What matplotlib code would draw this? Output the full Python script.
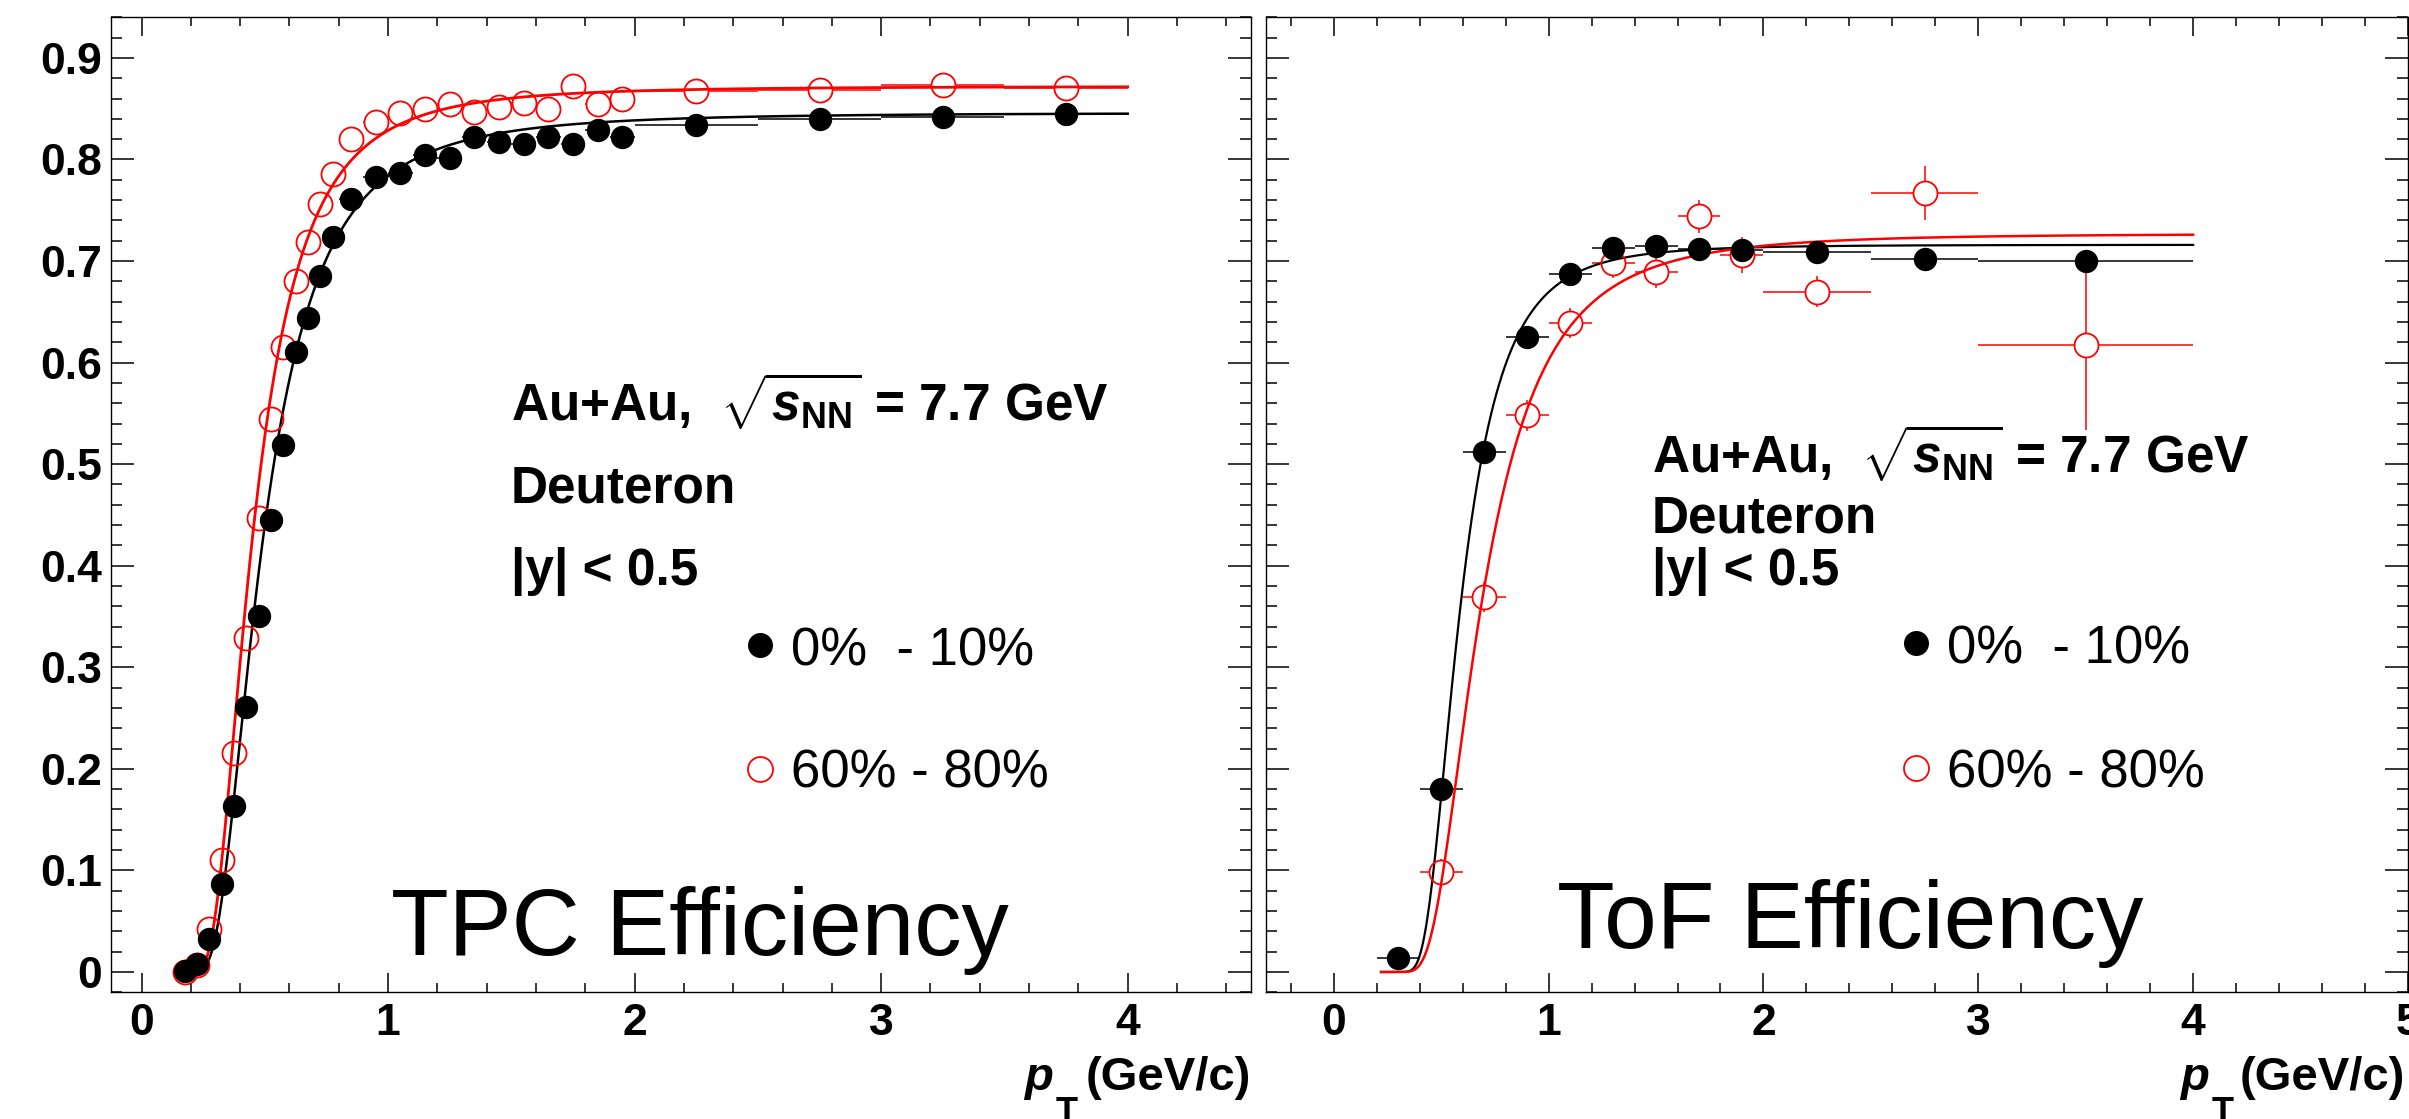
import matplotlib
matplotlib.use("Agg")
import matplotlib.pyplot as plt
import numpy as np
from matplotlib.ticker import MultipleLocator, FuncFormatter

plt.rcParams["font.family"] = ["Liberation Sans", "DejaVu Sans"]
plt.rcParams["mathtext.fontset"] = "custom"
plt.rcParams["mathtext.rm"] = "Liberation Sans:bold"
plt.rcParams["mathtext.it"] = "Liberation Sans:bold:italic"
plt.rcParams["mathtext.bf"] = "Liberation Sans:bold"

# ---- TPC efficiency (left panel) ----
tpc_pt = [0.175, 0.225, 0.275, 0.325, 0.375, 0.425, 0.475, 0.525, 0.575, 0.625,
          0.675, 0.725, 0.775, 0.85, 0.95, 1.05, 1.15, 1.25, 1.35, 1.45,
          1.55, 1.65, 1.75, 1.85, 1.95, 2.25, 2.75, 3.25, 3.75]
tpc_pt_err = [0.025] * 13 + [0.05] * 12 + [0.25] * 4
tpc_eff_0_10 = [0.001, 0.008, 0.032, 0.087, 0.163, 0.261, 0.351, 0.445, 0.519, 0.610,
                0.644, 0.685, 0.724, 0.761, 0.783, 0.787, 0.804, 0.801, 0.822, 0.817,
                0.815, 0.822, 0.815, 0.829, 0.822, 0.834, 0.840, 0.842, 0.845]
tpc_eff_60_80 = [0.000, 0.007, 0.042, 0.110, 0.216, 0.329, 0.447, 0.544, 0.615, 0.680,
                 0.719, 0.756, 0.786, 0.820, 0.837, 0.846, 0.850, 0.855, 0.847, 0.852,
                 0.856, 0.850, 0.872, 0.855, 0.860, 0.867, 0.868, 0.873, 0.870]

# ---- ToF efficiency (right panel) ----
tof_pt_0_10 = [0.3, 0.5, 0.7, 0.9, 1.1, 1.3, 1.5, 1.7, 1.9, 2.25, 2.75, 3.5]
tof_pt_err_0_10 = [0.1, 0.1, 0.1, 0.1, 0.1, 0.1, 0.1, 0.1, 0.1, 0.25, 0.25, 0.5]
tof_eff_0_10 = [0.014, 0.180, 0.512, 0.625, 0.687, 0.713, 0.715, 0.712, 0.711, 0.709, 0.702, 0.700]
tof_eff_err_0_10 = [0.004] * 12

tof_pt_60_80 = [0.5, 0.7, 0.9, 1.1, 1.3, 1.5, 1.7, 1.9, 2.25, 2.75, 3.5]
tof_pt_err_60_80 = [0.1, 0.1, 0.1, 0.1, 0.1, 0.1, 0.1, 0.1, 0.25, 0.25, 0.5]
tof_eff_60_80 = [0.098, 0.369, 0.548, 0.639, 0.698, 0.689, 0.744, 0.706, 0.670, 0.767, 0.617]
tof_eff_err_60_80 = [0.013, 0.015, 0.015, 0.015, 0.015, 0.016, 0.016, 0.018, 0.015, 0.027, 0.083]

# fit parameters of eff = a * exp(-(b / pT)^c)
tpc_fit_0_10 = (0.846, 0.436, 3.1)
tpc_fit_60_80 = (0.872, 0.406, 3.3)
tof_fit_0_10 = (0.716, 0.5415, 4.4)
tof_fit_60_80 = (0.727, 0.620, 3.5)
tpc_fit_range = (0.17, 4.0)
tof_fit_range = (0.22, 4.0)

W, H = 2409, 1119


def fx(px):
    return px / W


def fy(py):
    return 1 - py / H


def eff_fit(pt, a, b, c):
    return a * np.exp(-(b / pt) ** c)


def draw_series(ax, pt, eff, pt_err, eff_err, color, filled):
    ax.errorbar(pt, eff, xerr=pt_err, yerr=eff_err, fmt="none", ecolor=color,
                elinewidth=1.1, capsize=0, zorder=2.6 if filled else 2)
    if filled:
        ax.plot(pt, eff, "o", ms=16.8, mfc=color, mec=color, mew=0, zorder=5)
    else:
        ax.plot(pt, eff, "o", ms=17.3, mfc="white", mec="none", zorder=2.5)
        ax.plot(pt, eff, "o", ms=17.3, mfc="none", mec=color, mew=1.3, zorder=4)


def draw_fit(ax, params, rng, color, lw):
    x = np.linspace(rng[0], rng[1], 600)
    ax.plot(x, eff_fit(x, *params), color=color, lw=lw, zorder=3)


def style_axes(ax, xlim, show_ylabels):
    ax.set_xlim(*xlim)
    ax.set_ylim(-0.02, 0.94)
    ax.xaxis.set_major_locator(MultipleLocator(1))
    ax.xaxis.set_minor_locator(MultipleLocator(0.2))
    ax.yaxis.set_major_locator(MultipleLocator(0.1))
    ax.yaxis.set_minor_locator(MultipleLocator(0.02))
    ax.xaxis.set_major_formatter(FuncFormatter(lambda v, p: f"{v:g}"))
    ax.yaxis.set_major_formatter(FuncFormatter(lambda v, p: f"{v:g}"))
    ax.tick_params(which="both", direction="in", top=True, right=True, width=1.1)
    ax.tick_params(axis="x", which="major", length=13.7, pad=8)
    ax.tick_params(axis="x", which="minor", length=6.8)
    ax.tick_params(axis="y", which="major", length=16.3, pad=6)
    ax.tick_params(axis="y", which="minor", length=7.9)
    ax.tick_params(labelsize=32, labelleft=show_ylabels)
    for lab in ax.get_xticklabels() + ax.get_yticklabels():
        lab.set_fontweight("bold")
    for s in ax.spines.values():
        s.set_linewidth(1.0)


def annotate(fig, x0, base_y, legend_x, legend_y, title, title_xy):
    fig.text(fx(x0), fy(base_y[0]), r"Au+Au,  $\sqrt{s_{\rm NN}}$ = 7.7 GeV",
             fontsize=37, fontweight="bold", va="baseline")
    fig.text(fx(x0), fy(base_y[1]), "Deuteron", fontsize=37, fontweight="bold", va="baseline")
    fig.text(fx(x0), fy(base_y[2]), "|y| < 0.5", fontsize=37, fontweight="bold", va="baseline")
    fig.lines.append(plt.Line2D([fx(legend_x)], [fy(legend_y[0])], marker="o", ms=18,
                                mfc="black", mec="black", mew=0, transform=fig.transFigure))
    fig.lines.append(plt.Line2D([fx(legend_x)], [fy(legend_y[1])], marker="o", ms=18,
                                mfc="none", mec="red", mew=1.3, transform=fig.transFigure))
    fig.text(fx(legend_x + 31), fy(legend_y[0] + 20), "0%  - 10%", fontsize=38, va="baseline")
    fig.text(fx(legend_x + 31), fy(legend_y[1] + 19), "60% - 80%", fontsize=38, va="baseline")
    fig.text(fx(title_xy[0]), fy(title_xy[1]), title, fontsize=68, va="baseline")


def pt_label(fig, p_left, right):
    # ROOT-style p_T with a low-hanging subscript
    fig.text(fx(p_left), fy(1090), "p", fontsize=34, fontweight="bold", fontstyle="italic",
             va="baseline")
    fig.text(fx(p_left + 32), fy(1096), "T", fontsize=26, fontweight="bold", va="top")
    fig.text(fx(right), fy(1090), "(GeV/c)", fontsize=34, fontweight="bold",
             ha="right", va="baseline")


fig = plt.figure(figsize=(W / 100, H / 100), dpi=100)
ax_tpc = fig.add_axes([fx(110.7), fy(992.3), fx(1251) - fx(110.7), fy(17.3) - fy(992.3)])
ax_tof = fig.add_axes([fx(1266.3), fy(992.3), fx(2408) - fx(1266.3), fy(17.3) - fy(992.3)])

# left: TPC
draw_series(ax_tpc, tpc_pt, tpc_eff_60_80, tpc_pt_err, None, "red", False)
draw_series(ax_tpc, tpc_pt, tpc_eff_0_10, tpc_pt_err, None, "black", True)
draw_fit(ax_tpc, tpc_fit_0_10, tpc_fit_range, "black", 1.8)
draw_fit(ax_tpc, tpc_fit_60_80, tpc_fit_range, "red", 2.0)
style_axes(ax_tpc, (-0.125, 4.5), True)

# right: ToF
draw_series(ax_tof, tof_pt_60_80, tof_eff_60_80, tof_pt_err_60_80, tof_eff_err_60_80, "red", False)
draw_series(ax_tof, tof_pt_0_10, tof_eff_0_10, tof_pt_err_0_10, tof_eff_err_0_10, "black", True)
draw_fit(ax_tof, tof_fit_0_10, tof_fit_range, "black", 1.6)
draw_fit(ax_tof, tof_fit_60_80, tof_fit_range, "red", 1.8)
style_axes(ax_tof, (-0.314, 5.0), False)

annotate(fig, 511, (422, 503, 585), 760, (645, 769), "TPC Efficiency", (391, 955))
annotate(fig, 1652, (474, 533, 585), 1916, (643, 768), "ToF Efficiency", (1557, 948))

pt_label(fig, 1024, 1251)
pt_label(fig, 2180, 2405)

fig.savefig("out.png", dpi=100)
